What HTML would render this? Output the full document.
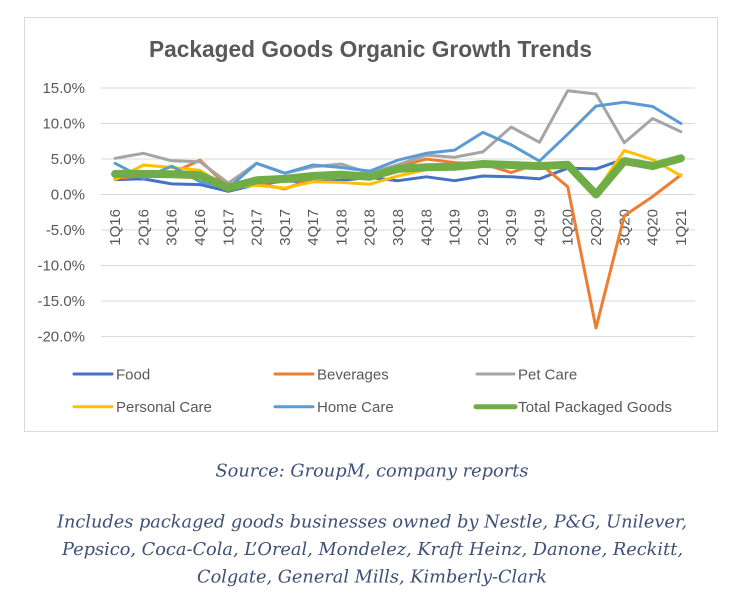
<!DOCTYPE html>
<html><head><meta charset="utf-8"><style>
html,body{margin:0;padding:0;background:#fff;}
svg{display:block;}
</style></head><body>
<svg width="737" height="595" viewBox="0 0 737 595" xmlns="http://www.w3.org/2000/svg">
<rect x="0" y="0" width="737" height="595" fill="#fff"/>
<rect x="24.5" y="17.5" width="693" height="414" fill="#fff" stroke="#d9d9d9" stroke-width="1"/>
<text x="149" y="57" font-family="Liberation Sans, sans-serif" font-weight="bold" font-size="23" fill="#595959" textLength="443" lengthAdjust="spacingAndGlyphs">Packaged Goods Organic Growth Trends</text>
<g stroke="#d9d9d9" stroke-width="1">
<line x1="101" y1="88" x2="695" y2="88"/>
<line x1="101" y1="123.5" x2="695" y2="123.5"/>
<line x1="101" y1="159" x2="695" y2="159"/>
<line x1="101" y1="194.5" x2="695" y2="194.5"/>
<line x1="101" y1="230" x2="695" y2="230"/>
<line x1="101" y1="265.5" x2="695" y2="265.5"/>
<line x1="101" y1="301" x2="695" y2="301"/>
<line x1="101" y1="336.5" x2="695" y2="336.5"/>
</g>
<g font-family="Liberation Sans, sans-serif" font-size="15" fill="#595959" text-anchor="end">
<text x="85" y="93">15.0%</text>
<text x="85" y="128.5">10.0%</text>
<text x="85" y="164">5.0%</text>
<text x="85" y="199.5">0.0%</text>
<text x="85" y="235">-5.0%</text>
<text x="85" y="270.5">-10.0%</text>
<text x="85" y="306">-15.0%</text>
<text x="85" y="341.5">-20.0%</text>
</g>
<g font-family="Liberation Sans, sans-serif" font-size="15" fill="#595959" text-anchor="end">
<text transform="translate(120.1,209) rotate(-90)">1Q16</text>
<text transform="translate(148.4,209) rotate(-90)">2Q16</text>
<text transform="translate(176.7,209) rotate(-90)">3Q16</text>
<text transform="translate(205,209) rotate(-90)">4Q16</text>
<text transform="translate(233.3,209) rotate(-90)">1Q17</text>
<text transform="translate(261.6,209) rotate(-90)">2Q17</text>
<text transform="translate(289.8,209) rotate(-90)">3Q17</text>
<text transform="translate(318.1,209) rotate(-90)">4Q17</text>
<text transform="translate(346.4,209) rotate(-90)">1Q18</text>
<text transform="translate(374.7,209) rotate(-90)">2Q18</text>
<text transform="translate(403,209) rotate(-90)">3Q18</text>
<text transform="translate(431.3,209) rotate(-90)">4Q18</text>
<text transform="translate(459.6,209) rotate(-90)">1Q19</text>
<text transform="translate(487.9,209) rotate(-90)">2Q19</text>
<text transform="translate(516.2,209) rotate(-90)">3Q19</text>
<text transform="translate(544.5,209) rotate(-90)">4Q19</text>
<text transform="translate(572.7,209) rotate(-90)">1Q20</text>
<text transform="translate(601,209) rotate(-90)">2Q20</text>
<text transform="translate(629.3,209) rotate(-90)">3Q20</text>
<text transform="translate(657.6,209) rotate(-90)">4Q20</text>
<text transform="translate(685.9,209) rotate(-90)">1Q21</text>
</g>
<g fill="none" stroke-linejoin="round" stroke-linecap="round">
<polyline stroke="#4472C4" stroke-width="3" points="115.1,179.6 143.4,178.9 171.7,183.9 200,184.6 228.3,191.3 256.6,184.6 284.8,181 313.1,181.7 341.4,180.3 369.7,177.5 398,180.7 426.3,176.8 454.6,180.7 482.9,176 511.2,176.8 539.5,178.9 567.7,168.2 596,168.9 624.3,159 652.6,163.3 680.9,159"/>
<polyline stroke="#ED7D31" stroke-width="3" points="115.1,178.2 143.4,176 171.7,173.2 200,160.1 228.3,187.4 256.6,183.1 284.8,189 313.1,178.2 341.4,174.6 369.7,174.6 398,166.8 426.3,159 454.6,162.6 482.9,164 511.2,172.5 539.5,163.3 567.7,186.7 596,328 624.3,215.8 652.6,196.6 680.9,175"/>
<polyline stroke="#A5A5A5" stroke-width="3" points="115.1,158.3 143.4,153.3 171.7,160.8 200,161.8 228.3,183.1 256.6,163.3 284.8,173.2 313.1,166.8 341.4,164 369.7,173.2 398,164.7 426.3,155.1 454.6,157.2 482.9,151.9 511.2,127 539.5,142.3 567.7,90.8 596,94 624.3,142.7 652.6,118.5 680.9,131.7"/>
<polyline stroke="#FFC000" stroke-width="3" points="115.1,179.6 143.4,165 171.7,167.5 200,170.4 228.3,188.1 256.6,185.3 284.8,188.1 313.1,181.7 341.4,182.4 369.7,184.2 398,176 426.3,169.6 454.6,166.8 482.9,164 511.2,164.7 539.5,166.1 567.7,164.7 596,192.4 624.3,150.5 652.6,159.7 680.9,175.7"/>
<polyline stroke="#5B9BD5" stroke-width="3" points="115.1,163.3 143.4,178.2 171.7,166.1 200,181.7 228.3,188.1 256.6,163.3 284.8,173.2 313.1,165 341.4,167.5 369.7,171.1 398,160.1 426.3,153.3 454.6,150.1 482.9,132.4 511.2,144.8 539.5,161.1 567.7,134.2 596,106.1 624.3,102.2 652.6,106.5 680.9,123.5"/>
<polyline stroke="#70AD47" stroke-width="8" points="115.1,173.9 143.4,173.9 171.7,174.3 200,175.3 228.3,187.8 256.6,180.3 284.8,178.9 313.1,176 341.4,174.6 369.7,176.8 398,168.9 426.3,167.2 454.6,166.8 482.9,164 511.2,165 539.5,166.1 567.7,164.7 596,194.5 624.3,161.1 652.6,166.1 680.9,158.3"/>
</g>
<g stroke-linecap="round">
<line x1="74" y1="374" x2="112" y2="374" stroke="#4472C4" stroke-width="3"/>
<line x1="275" y1="374" x2="313" y2="374" stroke="#ED7D31" stroke-width="3"/>
<line x1="477" y1="374" x2="514" y2="374" stroke="#A5A5A5" stroke-width="3"/>
<line x1="74" y1="406.7" x2="112" y2="406.7" stroke="#FFC000" stroke-width="3"/>
<line x1="275" y1="406.7" x2="313" y2="406.7" stroke="#5B9BD5" stroke-width="3"/>
<line x1="476" y1="406.7" x2="515" y2="406.7" stroke="#70AD47" stroke-width="5"/>
</g>
<g font-family="Liberation Sans, sans-serif" font-size="15" fill="#595959">
<text x="116" y="379.5">Food</text>
<text x="317" y="379.5">Beverages</text>
<text x="518" y="379.5">Pet Care</text>
<text x="116" y="412">Personal Care</text>
<text x="317" y="412">Home Care</text>
<text x="518" y="412" textLength="154" lengthAdjust="spacingAndGlyphs">Total Packaged Goods</text>
</g>
<g font-family="DejaVu Serif, Liberation Serif, serif" font-style="italic" font-size="18" fill="#3e5078" text-anchor="middle">
<text x="372" y="476.5" textLength="313" lengthAdjust="spacingAndGlyphs">Source: GroupM, company reports</text>
<text x="372" y="527.5" textLength="630" lengthAdjust="spacingAndGlyphs">Includes packaged goods businesses owned by Nestle, P&amp;G, Unilever,</text>
<text x="372.5" y="555" textLength="621" lengthAdjust="spacingAndGlyphs">Pepsico, Coca-Cola, L’Oreal, Mondelez, Kraft Heinz, Danone, Reckitt,</text>
<text x="372" y="582.5" textLength="350" lengthAdjust="spacingAndGlyphs">Colgate, General Mills, Kimberly-Clark</text>
</g>
</svg>
</body></html>
